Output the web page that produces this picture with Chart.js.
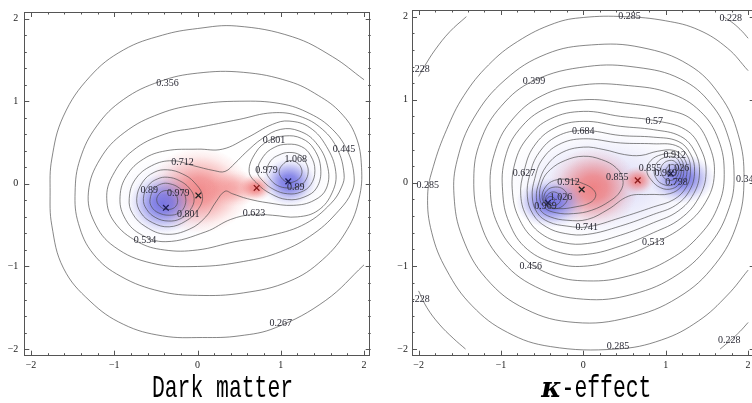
<!DOCTYPE html>
<html>
<head>
<meta charset="utf-8">
<script src="https://cdn.jsdelivr.net/npm/chart.js@4.4.1/dist/chart.umd.min.js"></script>
<style>
  html, body { margin: 0; padding: 0; background: #fff; width: 752px; height: 403px; overflow: hidden; }
  #dm { position: absolute; left: 0; top: 0; }
  #ke { position: absolute; left: 376px; top: 0; }
</style>
</head>
<body>
<canvas id="dm" width="376" height="403"></canvas>
<canvas id="ke" width="384" height="403"></canvas>
<script>
// ---- axes ----
const tickVals = [-2, -1, 0, 1, 2];
const minorVals = [-1.8, -1.6, -1.4, -1.2, -0.8, -0.6, -0.4, -0.2, 0.2, 0.4, 0.6, 0.8, 1.2, 1.4, 1.6, 1.8];

// ---- Dark matter panel: contour lines ----
const dm267 = [[2.0,1.26],[1.62,1.54],[1.14,1.78],[0.47,1.91],[0.0,1.88],[-0.42,1.80],[-0.89,1.62],[-1.29,1.30],[-1.61,0.82],[-1.75,0.30],[-1.77,-0.10],[-1.75,-0.50],[-1.61,-1.02],[-1.29,-1.42],[-0.89,-1.70],[-0.42,-1.84],[0.06,-1.86],[0.50,-1.84],[0.94,-1.74],[1.54,-1.41],[2.0,-0.98]];
const dm356 = [[1.97,0.20],[1.90,0.58],[1.72,0.86],[1.45,1.07],[1.10,1.24],[0.55,1.35],[0.0,1.34],[-0.45,1.24],[-0.89,1.02],[-1.21,0.70],[-1.41,0.30],[-1.47,-0.10],[-1.43,-0.48],[-1.25,-0.85],[-0.92,-1.12],[-0.45,-1.30],[0.0,-1.35],[0.55,-1.32],[1.10,-1.18],[1.50,-0.92],[1.80,-0.55],[1.94,-0.18]];
const dm445 = [[1.88,0.10],[1.80,0.40],[1.62,0.66],[1.35,0.85],[1.0,0.97],[0.5,1.0],[0.0,0.96],[-0.45,0.85],[-0.88,0.62],[-1.17,0.30],[-1.31,-0.10],[-1.24,-0.46],[-1.0,-0.76],[-0.55,-0.96],[0.0,-1.0],[0.55,-0.94],[1.0,-0.82],[1.40,-0.60],[1.70,-0.32],[1.85,-0.10]];
const dm534 = [[1.76,0.12],[1.68,0.42],[1.50,0.66],[1.22,0.82],[0.9,0.86],[0.5,0.78],[0.0,0.68],[-0.40,0.60],[-0.78,0.40],[-1.02,0.10],[-1.09,-0.18],[-1.0,-0.46],[-0.72,-0.70],[-0.40,-0.80],[0.0,-0.80],[0.45,-0.70],[0.9,-0.62],[1.3,-0.48],[1.60,-0.24],[1.73,-0.04]];
const dm623 = [[1.66,0.15],[1.55,0.45],[1.35,0.68],[1.1,0.76],[0.9,0.72],[0.6,0.56],[0.3,0.42],[0.0,0.42],[-0.38,0.40],[-0.65,0.30],[-0.85,0.10],[-0.93,-0.15],[-0.88,-0.40],[-0.70,-0.60],[-0.38,-0.70],[0.1,-0.58],[0.4,-0.43],[0.67,-0.37],[0.9,-0.38],[1.2,-0.40],[1.45,-0.32],[1.62,-0.10]];
const dm712 = [[-0.82,-0.18],[-0.75,0.05],[-0.55,0.22],[-0.30,0.28],[-0.05,0.22],[0.20,0.16],[0.33,0.15],[0.45,0.25],[0.58,0.38],[0.78,0.55],[1.0,0.66],[1.22,0.64],[1.42,0.50],[1.56,0.22],[1.55,-0.05],[1.40,-0.20],[1.15,-0.26],[0.85,-0.23],[0.60,-0.18],[0.42,-0.12],[0.33,-0.09],[0.22,-0.22],[0.10,-0.40],[-0.10,-0.55],[-0.38,-0.61],[-0.62,-0.52],[-0.78,-0.36]];
const dm801a = [[0.62,0.15],[0.70,0.38],[0.85,0.52],[1.05,0.58],[1.25,0.55],[1.40,0.42],[1.48,0.18],[1.43,-0.05],[1.28,-0.16],[1.08,-0.19],[0.88,-0.12],[0.72,0.0]];
const dm890a = [[0.72,0.15],[0.79,0.33],[0.92,0.44],[1.08,0.48],[1.25,0.45],[1.36,0.34],[1.41,0.16],[1.36,-0.01],[1.24,-0.10],[1.08,-0.12],[0.92,-0.07],[0.79,0.03]];
const dm979a = [[0.83,0.15],[0.88,0.28],[0.98,0.35],[1.10,0.38],[1.23,0.35],[1.30,0.26],[1.33,0.15],[1.29,0.03],[1.20,-0.04],[1.08,-0.05],[0.96,-0.02],[0.87,0.06]];
const dm1068a = [[0.98,0.15],[1.02,0.23],[1.10,0.28],[1.19,0.26],[1.25,0.18],[1.24,0.09],[1.17,0.03],[1.08,0.02],[1.01,0.07]];
const dm801b = [[-0.73,-0.18],[-0.66,0.02],[-0.52,0.14],[-0.36,0.17],[-0.18,0.12],[-0.04,0.02],[0.06,-0.15],[0.0,-0.32],[-0.14,-0.45],[-0.34,-0.52],[-0.54,-0.47],[-0.68,-0.35]];
const dm890b = [[-0.65,-0.18],[-0.59,-0.02],[-0.48,0.06],[-0.36,0.08],[-0.22,0.04],[-0.10,-0.05],[-0.04,-0.18],[-0.09,-0.32],[-0.20,-0.42],[-0.35,-0.45],[-0.50,-0.41],[-0.61,-0.31]];
const dm979b = [[-0.57,-0.19],[-0.52,-0.06],[-0.43,0.0],[-0.33,0.0],[-0.22,-0.05],[-0.15,-0.14],[-0.15,-0.26],[-0.22,-0.35],[-0.34,-0.38],[-0.47,-0.35],[-0.55,-0.28]];
const dm1068b = [[-0.49,-0.20],[-0.45,-0.11],[-0.37,-0.08],[-0.29,-0.10],[-0.24,-0.18],[-0.26,-0.27],[-0.34,-0.31],[-0.43,-0.29]];
const dmOpen = [dm267];
const dmClosed = [dm356, dm445, dm534, dm623, dm712, dm801a, dm890a, dm979a, dm1068a, dm801b, dm890b, dm979b, dm1068b];

const dmLabelText = ['0.356','0.445','0.801','1.068','0.979','0.89','0.712','0.89','0.979','0.801','0.623','0.534','0.267'];
const dmLabelX = [-0.36, 1.76, 0.92, 1.18, 0.83, 1.18, -0.18, -0.58, -0.23, -0.11, 0.68, -0.63, 1.0];
const dmLabelY = [1.22, 0.42, 0.53, 0.30, 0.16, -0.04, 0.26, -0.08, -0.12, -0.37, -0.36, -0.69, -1.69];

const dmMarkX = [-0.38, 0.01, 0.71, 1.09];
const dmMarkY = [-0.29, -0.14, -0.05, 0.03];
const dmMarkKind = ['blue', 'black', 'red', 'blue'];

const dmBlobX = [-0.35, 1.1, 0.02, 0.45, 0.70, -0.42, 1.10];
const dmBlobY = [-0.2, 0.05, -0.08, -0.05, -0.05, -0.24, 0.02];
const dmBlobRx = [0.65, 0.5, 0.62, 0.35, 0.2, 0.40, 0.32];
const dmBlobRy = [0.55, 0.45, 0.52, 0.22, 0.16, 0.36, 0.28];
const dmBlobKind = ['haze', 'haze', 'red', 'red', 'red', 'blue', 'blue'];
const dmBlobPeak = [0.4, 0.3, 0.85, 0.5, 0.85, 0.85, 0.85];

// ---- kappa-effect panel ----
const ke228a = [[-1.42,2.0],[-1.62,1.82],[-1.80,1.60],[-1.93,1.40],[-2.0,1.28]];
const ke228b = [[-2.0,-1.30],[-1.90,-1.50],[-1.75,-1.70],[-1.58,-1.87],[-1.43,-2.0]];
const ke228c = [[1.70,2.0],[1.82,1.92],[1.93,1.82],[2.0,1.74]];
const ke228d = [[1.66,-2.0],[1.78,-1.90],[1.90,-1.79],[2.0,-1.68]];
const ke285 = [[2.0,1.35],[1.75,1.62],[1.40,1.84],[1.0,1.95],[0.5,2.0],[0.0,1.99],[-0.35,1.92],[-0.80,1.70],[-1.15,1.42],[-1.45,1.05],[-1.66,0.64],[-1.82,0.20],[-1.89,-0.15],[-1.84,-0.60],[-1.66,-1.05],[-1.35,-1.48],[-0.92,-1.80],[-0.40,-1.97],[0.40,-2.0],[0.95,-1.89],[1.40,-1.66],[1.75,-1.35],[2.0,-1.05]];
const ke342 = [[1.95,0.05],[1.88,0.58],[1.66,1.05],[1.28,1.42],[0.70,1.63],[0.10,1.66],[-0.45,1.55],[-0.95,1.24],[-1.33,0.78],[-1.53,0.28],[-1.57,-0.15],[-1.47,-0.65],[-1.18,-1.15],[-0.70,-1.52],[-0.10,-1.68],[0.55,-1.62],[1.15,-1.38],[1.60,-0.98],[1.87,-0.48]];
const ke399 = [[1.83,0.08],[1.76,0.55],[1.55,0.95],[1.18,1.25],[0.65,1.39],[0.05,1.40],[-0.60,1.23],[-1.0,0.92],[-1.25,0.50],[-1.33,0.05],[-1.26,-0.45],[-1.02,-0.90],[-0.58,-1.25],[0.0,-1.40],[0.60,-1.34],[1.15,-1.10],[1.55,-0.72],[1.77,-0.30]];
const ke456 = [[1.71,0.10],[1.64,0.52],[1.42,0.86],[1.05,1.08],[0.55,1.17],[0.0,1.18],[-0.50,1.05],[-0.88,0.74],[-1.08,0.35],[-1.13,-0.08],[-1.04,-0.50],[-0.78,-0.86],[-0.40,-1.10],[0.05,-1.18],[0.55,-1.12],[1.05,-0.92],[1.42,-0.62],[1.64,-0.27]];
const ke513 = [[1.59,0.10],[1.52,0.47],[1.32,0.76],[1.0,0.88],[0.5,0.96],[0.0,1.0],[-0.45,0.90],[-0.78,0.64],[-0.95,0.30],[-0.98,-0.10],[-0.90,-0.48],[-0.68,-0.80],[-0.32,-0.97],[0.05,-1.0],[0.45,-0.90],[0.85,-0.73],[1.22,-0.52],[1.48,-0.24]];
const ke570 = [[1.49,0.12],[1.42,0.42],[1.24,0.64],[0.86,0.75],[0.45,0.80],[0.0,0.86],[-0.40,0.77],[-0.68,0.54],[-0.83,0.24],[-0.86,-0.12],[-0.77,-0.45],[-0.57,-0.70],[-0.28,-0.84],[0.05,-0.86],[0.45,-0.76],[0.85,-0.60],[1.18,-0.43],[1.40,-0.18]];
const ke627 = [[1.41,0.13],[1.35,0.38],[1.18,0.56],[0.85,0.64],[0.45,0.68],[0.0,0.74],[-0.35,0.66],[-0.60,0.44],[-0.72,0.14],[-0.76,-0.15],[-0.68,-0.42],[-0.50,-0.62],[-0.24,-0.72],[0.05,-0.73],[0.45,-0.63],[0.85,-0.48],[1.15,-0.34],[1.34,-0.13]];
const ke684 = [[1.35,0.14],[1.30,0.35],[1.15,0.50],[0.85,0.55],[0.45,0.57],[0.0,0.63],[-0.32,0.56],[-0.54,0.36],[-0.65,0.10],[-0.68,-0.16],[-0.61,-0.38],[-0.45,-0.53],[-0.22,-0.61],[0.05,-0.62],[0.45,-0.52],[0.85,-0.38],[1.12,-0.27],[1.29,-0.09]];
const ke741 = [[1.30,0.14],[1.26,0.33],[1.12,0.45],[0.85,0.47],[0.45,0.48],[0.0,0.53],[-0.30,0.46],[-0.50,0.28],[-0.59,0.05],[-0.62,-0.17],[-0.56,-0.36],[-0.42,-0.47],[-0.20,-0.52],[0.05,-0.53],[0.45,-0.42],[0.85,-0.29],[1.10,-0.20],[1.25,-0.05]];
const ke798 = [[1.26,0.15],[1.22,0.30],[1.10,0.39],[0.90,0.38],[0.70,0.33],[0.50,0.34],[0.25,0.40],[0.0,0.43],[-0.27,0.36],[-0.45,0.20],[-0.54,0.0],[-0.57,-0.18],[-0.52,-0.33],[-0.40,-0.41],[-0.20,-0.45],[0.05,-0.44],[0.30,-0.32],[0.55,-0.16],[0.80,-0.14],[1.05,-0.13],[1.20,-0.03]];
const ke855a = [[-0.53,-0.18],[-0.50,0.02],[-0.40,0.16],[-0.22,0.27],[0.0,0.32],[0.22,0.28],[0.40,0.18],[0.48,0.04],[0.45,-0.10],[0.32,-0.22],[0.10,-0.33],[-0.12,-0.37],[-0.33,-0.36],[-0.47,-0.30]];
const ke855b = [[0.77,0.15],[0.82,0.27],[0.95,0.34],[1.10,0.35],[1.19,0.28],[1.22,0.15],[1.18,0.01],[1.08,-0.07],[0.94,-0.06],[0.82,0.04]];
const ke912a = [[-0.50,-0.18],[-0.46,-0.05],[-0.35,0.03],[-0.18,0.04],[0.0,-0.01],[0.12,-0.08],[0.15,-0.16],[0.08,-0.24],[-0.10,-0.29],[-0.30,-0.31],[-0.44,-0.27]];
const ke912b = [[0.86,0.15],[0.90,0.25],[1.00,0.31],[1.11,0.31],[1.17,0.24],[1.19,0.14],[1.15,0.03],[1.06,-0.03],[0.95,-0.01],[0.88,0.06]];
const ke969a = [[-0.48,-0.19],[-0.44,-0.09],[-0.34,-0.05],[-0.24,-0.08],[-0.19,-0.17],[-0.23,-0.26],[-0.33,-0.31],[-0.44,-0.28]];
const ke969b = [[0.94,0.15],[0.97,0.23],[1.05,0.27],[1.12,0.25],[1.16,0.17],[1.14,0.08],[1.07,0.03],[0.99,0.05]];
const ke1026a = [[-0.46,-0.20],[-0.42,-0.13],[-0.35,-0.11],[-0.29,-0.15],[-0.28,-0.22],[-0.34,-0.27],[-0.42,-0.26]];
const ke1026b = [[1.00,0.15],[1.03,0.20],[1.09,0.22],[1.13,0.18],[1.12,0.11],[1.06,0.08],[1.01,0.11]];
const ke1083 = [[-0.45,-0.21],[-0.42,-0.17],[-0.37,-0.17],[-0.35,-0.21],[-0.39,-0.25],[-0.43,-0.24]];
const keOpen = [ke228a, ke228b, ke228c, ke228d, ke285];
const keClosed = [ke342, ke399, ke456, ke513, ke570, ke627, ke684, ke741, ke798, ke855a, ke855b, ke912a, ke912b, ke969a, ke969b, ke1026a, ke1026b, ke1083];

const keLabelText = ['0.285','0.228','0.228','0.399','0.684','0.57','0.627','0.285','0.912','1.026','0.969','0.855','0.855','0.912','1.026','0.969','0.798','0.342','0.741','0.513','0.456','0.228','0.285','0.228'];
const keLabelX = [0.56, 1.79, -2.0, -0.60, 0.0, 0.86, -0.72, -1.89, -0.18, -0.27, -0.46, 0.41, 0.81, 1.11, 1.15, 1.0, 1.13, 1.99, 0.04, 0.85, -0.64, -2.0, 0.42, 1.77];
const keLabelY = [2.0, 1.98, 1.36, 1.22, 0.62, 0.74, 0.11, -0.03, 0.0, -0.17, -0.28, 0.07, 0.18, 0.33, 0.18, 0.12, 0.01, 0.04, -0.54, -0.72, -1.0, -1.40, -1.97, -1.89];

const keMarkX = [-0.43, -0.02, 0.66, 1.06];
const keMarkY = [-0.24, -0.08, 0.03, 0.11];
const keMarkKind = ['blue', 'black', 'red', 'blue'];

const keBlobX = [0.25, 0.12, 0.66, -0.40, 1.20];
const keBlobY = [-0.02, -0.06, 0.03, -0.24, 0.05];
const keBlobRx = [1.25, 0.55, 0.2, 0.42, 0.40];
const keBlobRy = [0.72, 0.48, 0.17, 0.30, 0.30];
const keBlobKind = ['haze', 'red', 'red', 'blue', 'blue'];
const keBlobPeak = [0.55, 0.9, 0.85, 0.9, 0.85];

// ---- styles ----
const LINE = 'rgba(70,70,70,0.65)';
const BLOB_RGB = { red: [240, 120, 120], blue: [100, 100, 225], haze: [195, 195, 242] };
const MARK_COLOR = { blue: '#1c1c55', black: '#222', red: '#8b1c1c' };
const LABEL_FONT = '10px "Liberation Serif", "Times New Roman", serif';

function rgba(c, a) { return `rgba(${c[0]},${c[1]},${c[2]},${a})`; }

function contourSet(pts, closed) {
  let seq = pts;
  if (closed) seq = [pts[pts.length - 1], ...pts, pts[0], pts[1]];
  const last = seq.length - 1;
  return {
    data: seq.map(p => ({ x: p[0], y: p[1] })),
    showLine: true,
    pointRadius: 0,
    borderColor: LINE,
    borderWidth: 1,
    tension: 0.4,
    fill: false,
    segment: closed ? {
      borderColor: c => (c.p0DataIndex === 0 || c.p1DataIndex === last) ? 'rgba(0,0,0,0)' : undefined
    } : undefined
  };
}

const density = {
  id: 'density',
  beforeDatasetsDraw(chart, args, o) {
    const { ctx, chartArea: a, scales: { x, y } } = chart;
    ctx.save();
    ctx.beginPath();
    ctx.rect(a.left, a.top, a.width, a.height);
    ctx.clip();
    o.xs.forEach((cx, i) => {
      const px = x.getPixelForValue(cx), py = y.getPixelForValue(o.ys[i]);
      const rx = Math.abs(x.getPixelForValue(cx + o.rx[i]) - px);
      const ry = Math.abs(y.getPixelForValue(o.ys[i] + o.ry[i]) - py);
      const c = BLOB_RGB[o.kind[i]], p = o.peak[i];
      ctx.save();
      ctx.translate(px, py);
      ctx.scale(rx, ry);
      const g = ctx.createRadialGradient(0, 0, 0, 0, 0, 1);
      g.addColorStop(0, rgba(c, p));
      g.addColorStop(0.3, rgba(c, p * 0.85));
      g.addColorStop(0.55, rgba(c, p * 0.5));
      g.addColorStop(0.8, rgba(c, p * 0.15));
      g.addColorStop(1, rgba(c, 0));
      ctx.fillStyle = g;
      ctx.beginPath();
      ctx.arc(0, 0, 1, 0, 2 * Math.PI);
      ctx.fill();
      ctx.restore();
    });
    ctx.restore();
  }
};

const contourLabels = {
  id: 'contourLabels',
  afterDatasetsDraw(chart, args, o) {
    const { ctx, chartArea: a, scales: { x, y } } = chart;
    ctx.save();
    ctx.beginPath();
    ctx.rect(a.left, a.top, a.width, a.height);
    ctx.clip();
    ctx.font = LABEL_FONT;
    ctx.fillStyle = '#2a2a35';
    ctx.textAlign = 'center';
    ctx.textBaseline = 'middle';
    o.text.forEach((t, i) => ctx.fillText(t, x.getPixelForValue(o.xs[i]), y.getPixelForValue(o.ys[i])));
    ctx.restore();
  }
};

const frameTicks = {
  id: 'frameTicks',
  afterDraw(chart) {
    const { ctx, chartArea: a, scales: { x, y } } = chart;
    ctx.save();
    ctx.strokeStyle = '#555';
    ctx.lineWidth = 1;
    ctx.strokeRect(Math.round(a.left) + 0.5, Math.round(a.top) + 0.5, Math.round(a.width) - 1, Math.round(a.height) - 1);
    const tick = (v, len) => {
      const px = Math.round(x.getPixelForValue(v)) + 0.5;
      const py = Math.round(y.getPixelForValue(v)) + 0.5;
      ctx.moveTo(px, a.bottom); ctx.lineTo(px, a.bottom - len);
      ctx.moveTo(px, a.top); ctx.lineTo(px, a.top + len);
      ctx.moveTo(a.left, py); ctx.lineTo(a.left + len, py);
      ctx.moveTo(a.right, py); ctx.lineTo(a.right - len, py);
    };
    ctx.beginPath();
    tickVals.forEach(v => tick(v, 5));
    minorVals.forEach(v => tick(v, 2.5));
    ctx.stroke();
    ctx.restore();
  }
};

const panelTitle = {
  id: 'panelTitle',
  afterDraw(chart, args, o) {
    const { ctx } = chart;
    ctx.save();
    ctx.fillStyle = '#000';
    ctx.textBaseline = 'alphabetic';
    ctx.textAlign = 'left';
    const widths = o.parts.map(p => { ctx.font = p.font; return ctx.measureText(p.text).width; });
    let px = o.cx - widths.reduce((s, w) => s + w, 0) / 2;
    o.parts.forEach((p, i) => {
      ctx.save();
      ctx.font = p.font;
      ctx.translate(px, o.baseline);
      ctx.scale(1, p.sy);
      ctx.fillText(p.text, 0, 0);
      ctx.restore();
      px += widths[i];
    });
    ctx.restore();
  }
};

function tickLabel(v) { return v < 0 ? '\u2212' + (-v) : String(v); }

function makePanel(id, cfg) {
  const datasets = [{
    data: cfg.markX.map((v, i) => ({ x: v, y: cfg.markY[i] })),
    pointStyle: 'crossRot',
    pointRadius: 4,
    pointBorderWidth: 1.3,
    pointBorderColor: cfg.markKind.map(k => MARK_COLOR[k]),
    showLine: false
  }];
  cfg.open.forEach(c => datasets.push(contourSet(c, false)));
  cfg.closed.forEach(c => datasets.push(contourSet(c, true)));

  const tickFont = { family: '"Liberation Serif", "Times New Roman", serif', size: 10 };
  return new Chart(document.getElementById(id), {
    type: 'scatter',
    data: { datasets },
    plugins: [density, contourLabels, frameTicks, panelTitle],
    options: {
      responsive: false,
      animation: false,
      events: [],
      layout: { padding: { top: 8.3, right: cfg.padRight, bottom: 0, left: 0 } },
      scales: {
        x: {
          type: 'linear', min: -2.08, max: 2.08,
          grid: { display: false, drawTicks: false },
          border: { display: false },
          afterBuildTicks: s => { s.ticks = tickVals.map(v => ({ value: v })); },
          afterFit: s => { s.height = 47.3; },
          ticks: { padding: 4, autoSkip: false, maxRotation: 0, color: '#222', font: tickFont, callback: tickLabel }
        },
        y: {
          type: 'linear', min: -2.08, max: 2.08,
          grid: { display: false, drawTicks: false },
          border: { display: false },
          afterBuildTicks: s => { s.ticks = tickVals.map(v => ({ value: v })); },
          afterFit: s => { s.width = cfg.axisWidth; },
          ticks: { padding: cfg.yPad, autoSkip: false, color: '#222', font: tickFont, callback: tickLabel }
        }
      },
      plugins: {
        legend: { display: false },
        tooltip: { enabled: false },
        density: { xs: cfg.blobX, ys: cfg.blobY, rx: cfg.blobRx, ry: cfg.blobRy, kind: cfg.blobKind, peak: cfg.blobPeak },
        contourLabels: { text: cfg.labelText, xs: cfg.labelX, ys: cfg.labelY },
        panelTitle: cfg.title
      }
    }
  });
}

const MONO = '21.4px "Liberation Mono", "Courier New", monospace';

makePanel('dm', {
  open: dmOpen, closed: dmClosed,
  labelText: dmLabelText, labelX: dmLabelX, labelY: dmLabelY,
  markX: dmMarkX, markY: dmMarkY, markKind: dmMarkKind,
  blobX: dmBlobX, blobY: dmBlobY, blobRx: dmBlobRx, blobRy: dmBlobRy, blobKind: dmBlobKind, blobPeak: dmBlobPeak,
  axisWidth: 24.3, yPad: 6, padRight: 2.3,
  title: { cx: 222.5, baseline: 396.5, parts: [{ text: 'Dark matter', font: MONO, sy: 1.5 }] }
});

makePanel('ke', {
  open: keOpen, closed: keClosed,
  labelText: keLabelText, labelX: keLabelX, labelY: keLabelY,
  markX: keMarkX, markY: keMarkY, markKind: keMarkKind,
  blobX: keBlobX, blobY: keBlobY, blobRx: keBlobRx, blobRy: keBlobRy, blobKind: keBlobKind, blobPeak: keBlobPeak,
  axisWidth: 36, yPad: 4, padRight: 2.4,
  title: { cx: 220.4, baseline: 396.5, parts: [
    { text: '\u03BA', font: 'bold italic 27px "DejaVu Serif", serif', sy: 1 },
    { text: '-effect', font: MONO, sy: 1.5 }
  ] }
});
</script>
</body>
</html>
